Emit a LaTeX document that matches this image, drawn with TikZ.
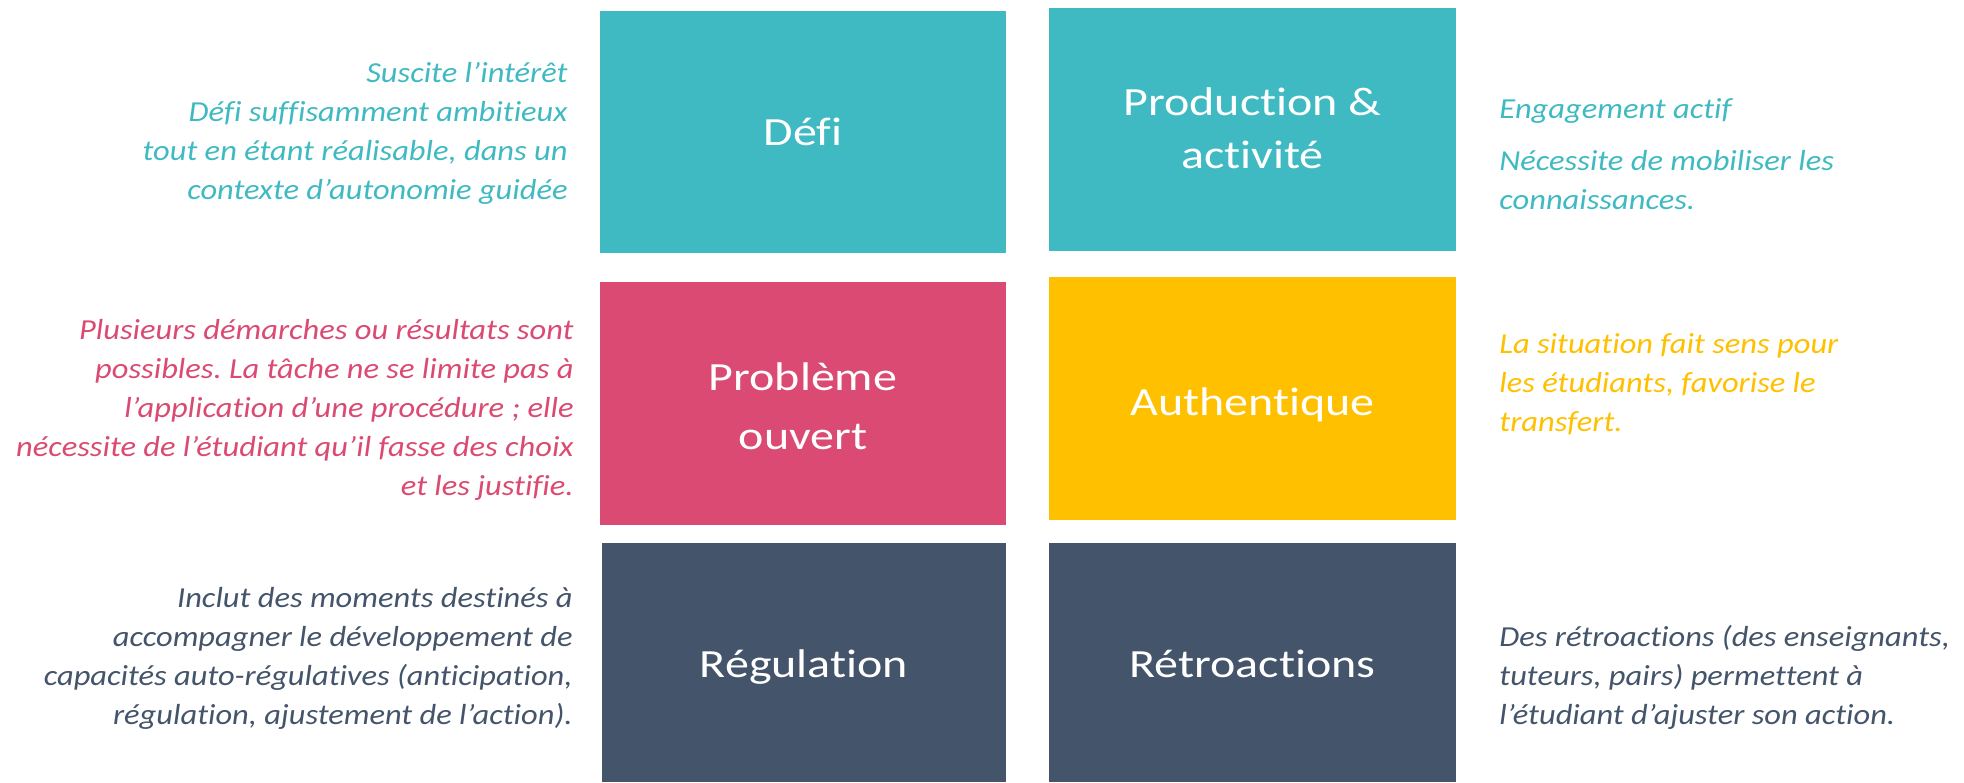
\documentclass[tikz,border=0pt]{standalone}
\usepackage{fontspec}
\setmainfont{Carlito}[Ligatures=NoCommon]
\newfontfamily\labelfont{Carlito}[FakeStretch=1.2, Ligatures=NoCommon]
\newfontfamily\descfont{Carlito}[FakeStretch=1.12, Ligatures=NoCommon]
\frenchspacing
\usetikzlibrary{fit}
\definecolor{cteal}{HTML}{40BAC2}
\definecolor{cpink}{HTML}{DA4A72}
\definecolor{cyellow}{HTML}{FFC000}
\definecolor{cslate}{HTML}{44546A}
\tikzset{
  box/.style={inner sep=0pt, outer sep=0pt, draw=none},
  lbl/.style={anchor=base, inner sep=0pt, text=white, font=\labelfont\fontsize{20}{26.5}\selectfont},
  descl/.style={anchor=base east, inner sep=0pt, font=\descfont\fontsize{14.5}{19.5}\selectfont\itshape},
  descr/.style={anchor=base west, inner sep=0pt, font=\descfont\fontsize{14.5}{19.5}\selectfont\itshape}
}
\begin{document}
\begin{tikzpicture}[x=0.5pt, y=-0.5pt]
\useasboundingbox (0,0) rectangle (1964,782);
% boxes
\node[box, fill=cteal, fit={(600,11) (1006,253)}] (defi) {};
\node[box, fill=cteal, fit={(1049,8) (1456,251)}] (prod) {};
\node[box, fill=cpink, fit={(600,282) (1006,525)}] (prob) {};
\node[box, fill=cyellow, fit={(1049,277) (1456,520)}] (auth) {};
\node[box, fill=cslate, fit={(602,543) (1006,782)}] (regu) {};
\node[box, fill=cslate, fit={(1049,543) (1456,782)}] (retro) {};
% labels
\node[lbl] (defiL) at (803,145) {Défi};
\node[lbl] (prodL) at (1252.5,115) {\begin{tabular}[t]{@{}c@{}}Production \&\\activité\end{tabular}};
\node[lbl] (probL) at (803,390) {\begin{tabular}[t]{@{}c@{}}Problème\\[3pt]ouvert\end{tabular}};
\node[lbl] (authL) at (1252.5,415) {Authentique};
\node[lbl] (reguL) at (804,677) {Régulation};
\node[lbl] (retroL) at (1252.5,677) {Rétroactions};
% descriptions
\node[descl, text=cteal] (defiD) at (568,82) {\begin{tabular}[t]{@{}r@{}}Suscite l’intérêt\\Défi suffisamment ambitieux\\tout en étant réalisable, dans un\\contexte d’autonomie guidée\end{tabular}};
\node[descr, text=cteal] (prodD) at (1499,118) {\begin{tabular}[t]{@{}l@{}}Engagement actif\\[6.5pt]Nécessite de mobiliser les\\connaissances.\end{tabular}};
\node[descl, text=cpink] (probD) at (574,339) {\begin{tabular}[t]{@{}r@{}}Plusieurs démarches ou résultats sont\\possibles. La tâche ne se limite pas à\\l’application d’une procédure ; elle\\nécessite de l’étudiant qu’il fasse des choix\\et les justifie.\end{tabular}};
\node[descr, text=cyellow] (authD) at (1499,353) {\begin{tabular}[t]{@{}l@{}}La situation fait sens pour\\les étudiants, favorise le\\transfert.\end{tabular}};
\node[descl, text=cslate] (reguD) at (573,607) {\begin{tabular}[t]{@{}r@{}}Inclut des moments destinés à\\accompagner le développement de\\capacités auto-régulatives (anticipation,\\régulation, ajustement de l’action).\end{tabular}};
\node[descr, text=cslate] (retroD) at (1499,646) {\begin{tabular}[t]{@{}l@{}}Des rétroactions (des enseignants,\\tuteurs, pairs) permettent à\\l’étudiant d’ajuster son action.\end{tabular}};
\end{tikzpicture}
\end{document}
